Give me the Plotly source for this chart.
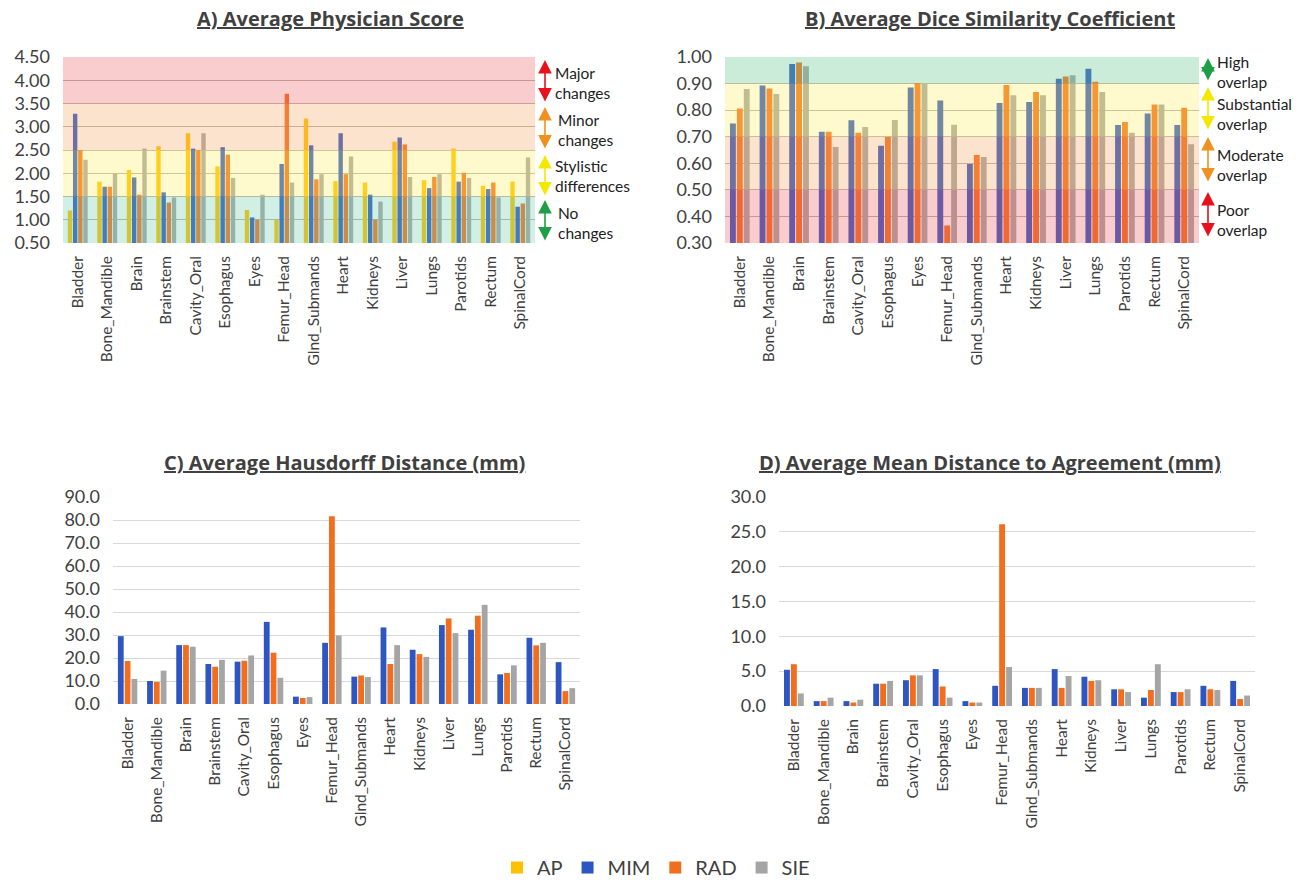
import plotly.graph_objects as go

# ---- data ----
organs = ["Bladder", "Bone_Mandible", "Brain", "Brainstem", "Cavity_Oral", "Esophagus",
          "Eyes", "Femur_Head", "Glnd_Submands", "Heart", "Kidneys", "Liver", "Lungs",
          "Parotids", "Rectum", "SpinalCord"]

# A) physician score (AP, MIM, RAD, SIE)
score_ap = [1.20, 1.82, 2.07, 2.58, 2.86, 2.15, 1.21, 1.00, 3.18, 1.83, 1.80, 2.68, 1.85, 2.53, 1.73, 1.82]
score_mim = [3.28, 1.71, 1.91, 1.59, 2.53, 2.56, 1.05, 2.20, 2.60, 2.86, 1.54, 2.77, 1.68, 1.82, 1.66, 1.28]
score_rad = [2.50, 1.71, 1.54, 1.37, 2.50, 2.40, 1.00, 3.71, 1.87, 1.98, 1.00, 2.62, 1.92, 2.01, 1.80, 1.35]
score_sie = [2.29, 1.99, 2.53, 1.48, 2.86, 1.90, 1.54, 1.80, 1.98, 2.36, 1.39, 1.92, 1.98, 1.90, 1.48, 2.34]

# B) Dice similarity coefficient (MIM, RAD, SIE)
dice_mim = [0.750, 0.893, 0.974, 0.719, 0.762, 0.666, 0.885, 0.836, 0.597, 0.827, 0.831, 0.918, 0.956, 0.744, 0.787, 0.744]
dice_rad = [0.806, 0.881, 0.979, 0.719, 0.715, 0.699, 0.902, 0.366, 0.631, 0.895, 0.868, 0.927, 0.907, 0.755, 0.821, 0.809]
dice_sie = [0.880, 0.861, 0.965, 0.661, 0.737, 0.763, 0.898, 0.745, 0.624, 0.856, 0.856, 0.931, 0.868, 0.715, 0.821, 0.672]

# C) Hausdorff distance, mm (MIM, RAD, SIE)
hd_mim = [29.5, 10.0, 25.6, 17.4, 18.4, 35.7, 3.2, 26.6, 11.9, 33.3, 23.6, 34.3, 32.3, 12.9, 28.8, 18.2]
hd_rad = [18.7, 9.6, 25.6, 16.2, 18.8, 22.3, 2.6, 81.6, 12.4, 17.4, 21.7, 37.2, 38.4, 13.5, 25.5, 5.6]
hd_sie = [10.9, 14.5, 24.9, 19.2, 21.1, 11.4, 3.0, 29.8, 11.7, 25.6, 20.5, 30.8, 43.1, 16.8, 26.6, 6.9]

# D) mean distance to agreement, mm (MIM, RAD, SIE)
mda_mim = [5.2, 0.7, 0.7, 3.2, 3.7, 5.3, 0.7, 2.9, 2.6, 5.3, 4.2, 2.4, 1.2, 2.0, 2.9, 3.6]
mda_rad = [6.0, 0.7, 0.5, 3.2, 4.4, 2.8, 0.5, 26.1, 2.6, 2.6, 3.6, 2.4, 2.3, 2.0, 2.4, 1.0]
mda_sie = [1.8, 1.2, 0.9, 3.6, 4.4, 1.2, 0.5, 5.6, 2.6, 4.3, 3.7, 2.0, 6.0, 2.4, 2.3, 1.5]

# ---- style ----
FONT = "Lato"
TITLE_FONT = "Open Sans"
TXT = "#404040"
C_AP, C_MIM, C_RAD, C_SIE = "#FFC000", "#2E56C2", "#F26E1F", "#A5A5A5"
W, H = 1299, 880


def px(x):
    return x / W


def py(y):
    return 1 - y / H


fig = go.Figure()

panels = [
    ("x", "y", [("AP", score_ap, C_AP), ("MIM", score_mim, C_MIM), ("RAD", score_rad, C_RAD), ("SIE", score_sie, C_SIE)], True),
    ("x2", "y2", [("MIM", dice_mim, C_MIM), ("RAD", dice_rad, C_RAD), ("SIE", dice_sie, C_SIE)], False),
    ("x3", "y3", [("MIM", hd_mim, C_MIM), ("RAD", hd_rad, C_RAD), ("SIE", hd_sie, C_SIE)], False),
    ("x4", "y4", [("MIM", mda_mim, C_MIM), ("RAD", mda_rad, C_RAD), ("SIE", mda_sie, C_SIE)], False),
]
for xa, ya, series, show in panels:
    for name, vals, col in series:
        fig.add_trace(go.Bar(x=organs, y=vals, name=name, marker_color=col,
                             marker_line_width=0, xaxis=xa, yaxis=ya,
                             showlegend=show, legendgroup=name))

cat_axis = dict(type="category", tickangle=-90, showgrid=False, zeroline=False,
                showline=False, ticks="", automargin=False, ticklabelstandoff=9,
                tickfont=dict(family=FONT, size=15.5, color=TXT), fixedrange=True)
val_axis = dict(showline=False, zeroline=False, ticks="", automargin=False,
                ticklabelstandoff=12,
                tickfont=dict(family=FONT, size=18, color=TXT), fixedrange=True)

fig.update_layout(
    width=W, height=H, margin=dict(l=0, r=0, t=0, b=0, autoexpand=False),
    paper_bgcolor="white", plot_bgcolor="white",
    barmode="group", bargap=0.3, bargroupgap=0.15,
    font=dict(family=FONT, color=TXT),
    xaxis=dict(cat_axis, domain=[px(63), px(535)], anchor="y"),
    yaxis=dict(val_axis, domain=[py(243), py(57)], range=[0.5, 4.5], dtick=0.5,
               tick0=0.5, tickformat=".2f", gridcolor="#B8B0A8", anchor="x"),
    xaxis2=dict(cat_axis, domain=[px(725), px(1199)], anchor="y2"),
    yaxis2=dict(val_axis, domain=[py(243), py(57)], range=[0.3, 1.0], dtick=0.1,
                tick0=0.3, tickformat=".2f", gridcolor="#B8B0A8", anchor="x2"),
    xaxis3=dict(cat_axis, domain=[px(113), px(580)], anchor="y3"),
    yaxis3=dict(val_axis, domain=[py(704), py(497)], range=[0, 90], dtick=10,
                tickformat=".1f", gridcolor="#D9D9D9", anchor="x3"),
    xaxis4=dict(cat_axis, domain=[px(779), px(1255)], anchor="y4"),
    yaxis4=dict(val_axis, domain=[py(706), py(497)], range=[0, 30], dtick=5,
                tickformat=".1f", gridcolor="#D9D9D9", anchor="x4"),
    legend=dict(orientation="h", x=0.505, xanchor="center", y=-0.008, yanchor="bottom",
                font=dict(family=FONT, size=20, color=TXT), itemwidth=30,
                traceorder="normal"),
)


# translucent category bands laid over the bars
def band(xref, yref, y0, y1, rgba):
    fig.add_shape(type="rect", xref=f"{xref} domain", yref=yref, x0=0, x1=1,
                  y0=y0, y1=y1, fillcolor=rgba, line_width=0, layer="above")


RED = "rgba(236,96,100,0.32)"
PEACH = "rgba(246,168,100,0.32)"
YEL = "rgba(255,240,100,0.32)"
TEAL = "rgba(112,206,172,0.32)"
GRN = "rgba(110,200,150,0.35)"

band("x", "y", 3.5, 4.5, RED)
band("x", "y", 2.5, 3.5, PEACH)
band("x", "y", 1.5, 2.5, YEL)
band("x", "y", 0.5, 1.5, TEAL)

band("x2", "y2", 0.9, 1.0, GRN)
band("x2", "y2", 0.7, 0.9, YEL)
band("x2", "y2", 0.5, 0.7, PEACH)
band("x2", "y2", 0.3, 0.5, RED)


# double-headed legend arrows beside the banded charts
def arrow(x, ytop, ybot, color):
    fig.add_annotation(x=px(x), y=py(ytop), xref="paper", yref="paper", text="",
                       showarrow=True, ax=0, ay=ybot - ytop, axref="pixel", ayref="pixel",
                       arrowside="end+start", arrowhead=2, arrowsize=1.7,
                       arrowwidth=1.6, arrowcolor=color)


def side_text(x, y, txt):
    fig.add_annotation(x=px(x), y=py(y), xref="paper", yref="paper", text=txt,
                       showarrow=False, xanchor="left", yanchor="middle", align="left",
                       font=dict(family=FONT, size=15.5, color="#222222"))


arrow(545, 60, 103, "#E8101C")
arrow(545, 107, 150, "#F0901E")
arrow(545, 155, 197, "#F5E800")
arrow(545, 200, 242, "#1E9E46")
side_text(553, 83, "Major<br>changes")
side_text(556, 130, "Minor<br>changes")
side_text(553, 176, "Stylistic<br>differences")
side_text(556, 223, "No<br>changes")

arrow(1208, 58, 82, "#1E9E46")
arrow(1208, 87, 131, "#F5E800")
arrow(1208, 137, 183, "#F0901E")
arrow(1208, 192, 238, "#E8101C")
side_text(1215, 72, "High<br>overlap")
side_text(1215, 114, "Substantial<br>overlap")
side_text(1215, 165, "Moderate<br>overlap")
side_text(1215, 220, "Poor<br>overlap")

# panel titles
titles = [
    (330, 18, "A) Average Physician Score"),
    (990, 18, "B) Average Dice Similarity Coefficient"),
    (344, 462, "C) Average Hausdorff Distance (mm)"),
    (990, 462, "D) Average Mean Distance to Agreement (mm)"),
]
for x, y, t in titles:
    fig.add_annotation(x=px(x), y=py(y), xref="paper", yref="paper",
                       text=f"<b><u>{t}</u></b>", showarrow=False,
                       xanchor="center", yanchor="middle",
                       font=dict(family=TITLE_FONT, size=20, color=TXT))

fig.write_html("out.html")
